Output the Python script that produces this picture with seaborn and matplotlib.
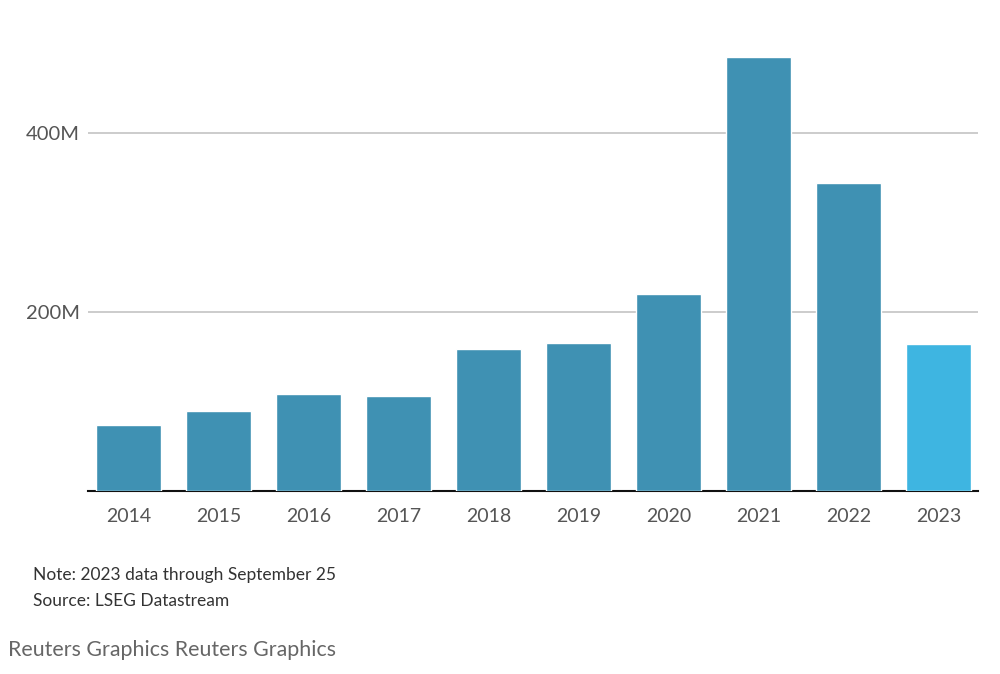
import pandas as pd
import matplotlib.pyplot as plt
import seaborn as sns

years = ["2014", "2015", "2016", "2017", "2018", "2019", "2020", "2021", "2022", "2023"]
values = [73.7, 89.4, 108.4, 106.1, 158.7, 165.4, 220.1, 484.9, 344.1, 164.2]  # millions
y_ticks = [200, 400]
y_tick_labels = ["200M", "400M"]

sns.set_theme(style="white")
plt.rcParams["font.family"] = ["Lato", "DejaVu Sans"]

df = pd.DataFrame({"year": years, "value": values})
palette = {y: "#3f91b3" for y in years}
palette["2023"] = "#3eb5e1"

fig = plt.figure(figsize=(10, 6.74), dpi=100)
ax = fig.add_axes([0.088, 0.2715, 0.89, 0.664])

sns.barplot(data=df, x="year", y="value", hue="year", palette=palette,
            width=0.72, saturation=1, legend=False, ax=ax, zorder=3)

ax.set_xlim(-0.45, 9.44)
ax.set_ylim(0, 500)
ax.set_yticks(y_ticks)
ax.set_yticklabels(y_tick_labels)
ax.yaxis.grid(True, color="#cccccc", linewidth=1.4, zorder=0)
ax.set_axisbelow(True)
ax.set_xlabel("")
ax.set_ylabel("")

for s in ["top", "right", "left"]:
    ax.spines[s].set_visible(False)
ax.spines["bottom"].set_color("#111111")
ax.spines["bottom"].set_linewidth(1.5)

ax.tick_params(axis="y", length=0, pad=6, labelsize=14.5, labelcolor="#555555")
ax.tick_params(axis="x", length=0, pad=12, labelsize=14, labelcolor="#555555")

fig.text(0.033, 1 - 575 / 674, "Note: 2023 data through September 25",
         fontsize=12.5, color="#333333", va="center")
fig.text(0.033, 1 - 601 / 674, "Source: LSEG Datastream",
         fontsize=12.5, color="#333333", va="center")
fig.text(0.008, 1 - 650 / 674, "Reuters Graphics Reuters Graphics",
         fontsize=15.4, color="#666666", va="center")

fig.savefig("out.png", dpi=100, facecolor="white")
